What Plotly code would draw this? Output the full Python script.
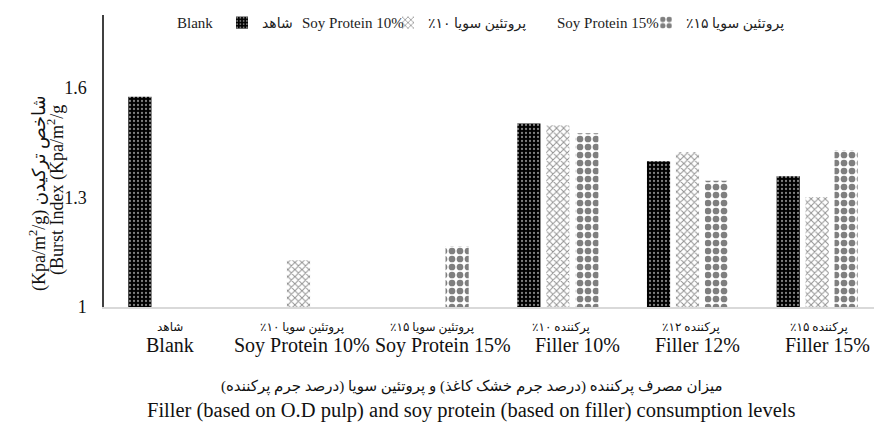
import plotly.graph_objects as go

# ---------------- data ----------------
categories = ["Blank", "Soy Protein 10%", "Soy Protein 15%", "Filler 10%", "Filler 12%", "Filler 15%"]
categories_fa = ["شاهد", "پروتئین سویا ۱۰٪", "پروتئین سویا ۱۵٪", "پرکننده ۱۰٪", "پرکننده ۱۲٪", "پرکننده ۱۵٪"]
series_en = ["Blank", "Soy Protein 10%", "Soy Protein 15%"]
series_fa = ["شاهد", "پروتئین سویا ۱۰٪", "پروتئین سویا ۱۵٪"]
blank_vals = [1.576, None, None, 1.503, 1.399, 1.358]
soy10_vals = [None, 1.128, None, 1.498, 1.424, 1.301]
soy15_vals = [None, None, 1.167, 1.476, 1.346, 1.430]
y_tickvals = [1, 1.3, 1.6]
y_ticktext = ["1", "1.3", "1.6"]

RLM = "\u200f"
FONT = "Liberation Serif, Times New Roman, DejaVu Sans, serif"

patterns = [
    dict(shape=".", fgcolor="white", bgcolor="black", size=4, solidity=0.25),
    dict(shape="x", fgcolor="#222222", bgcolor="white", size=5, solidity=0.35),
    dict(shape=".", fgcolor="black", bgcolor="white", size=8, solidity=0.55),
]
legend_ids = ["legend", "legend2", "legend3"]
legend_x_px = [222, 388, 646]

fig = go.Figure()
for vals, name, pat, lg in zip([blank_vals, soy10_vals, soy15_vals], series_fa, patterns, legend_ids):
    fig.add_trace(go.Bar(
        x=categories, y=vals, name=RLM + name + RLM, legend=lg, showlegend=True,
        marker=dict(color=pat["bgcolor"], pattern=pat, line=dict(width=0)),
    ))

# the page body has an 8px margin: work in page pixels, convert to figure
OFF = 8
W, H = 882 - OFF, 430 - OFF
ml, mr, mt, mb = 104 - OFF, 0, 15 - OFF, 430 - 307
pw, ph = W - ml - mr, H - mt - mb

def px_x(x):
    return (x - OFF - ml) / pw

def px_y(y):
    return (H - mb - (y - OFF)) / ph

legend_common = dict(orientation="h", yanchor="middle", xanchor="left", visible=True,
                     bgcolor="rgba(0,0,0,0)", font=dict(family=FONT, size=14, color="#222"),
                     itemclick=False, itemdoubleclick=False)
layout_legends = {}
for lg, xp in zip(legend_ids, legend_x_px):
    layout_legends[lg] = dict(legend_common, x=px_x(xp), y=px_y(23))

fig.update_layout(
    width=W, height=H, showlegend=True,
    margin=dict(l=ml, r=mr, t=mt, b=mb, pad=0, autoexpand=False),
    paper_bgcolor="white", plot_bgcolor="white",
    barmode="group", bargap=0.33, bargroupgap=0.2,
    font=dict(family=FONT, color="#111"),
    **layout_legends,
)

fig.update_xaxes(
    type="category", range=[-0.5, 5.5], automargin=False,
    showline=True, linecolor="#d9d9d9", linewidth=1.5,
    showgrid=False, ticks="", showticklabels=False,
)
fig.update_yaxes(
    range=[1, 1.8], tickvals=y_tickvals, ticktext=y_ticktext, automargin=False,
    showline=True, linecolor="#404040", linewidth=1.5,
    showgrid=False, zeroline=False, ticks="",
    tickfont=dict(family=FONT, size=18, color="#111"),
    ticklabelstandoff=12,
)

# two-line category labels (Persian above English)
fa_shift = [1, 3, 4, 3, 3, 2]
en_shift = [1, 3, 15, 20, 10, 10]
for cat, fa, fs, es in zip(categories, categories_fa, fa_shift, en_shift):
    fig.add_annotation(x=cat, y=px_y(327), xref="x", yref="paper", text=RLM + fa + RLM,
                       showarrow=False, font=dict(family=FONT, size=12, color="#111"),
                       xanchor="center", yanchor="middle", xshift=fs)
    fig.add_annotation(x=cat, y=px_y(345), xref="x", yref="paper", text=cat,
                       showarrow=False, font=dict(family=FONT, size=20, color="#111"),
                       xanchor="center", yanchor="middle", xshift=es)

# English legend texts
legend_en_right_px = [215, 406, 661]
for txt, xr in zip(series_en, legend_en_right_px):
    fig.add_annotation(x=px_x(xr), y=px_y(23), xref="paper", yref="paper", text=txt,
                       showarrow=False, font=dict(family=FONT, size=15, color="#222"),
                       xanchor="right", yanchor="middle")

# Y axis title (two lines)
fig.add_annotation(x=px_x(38), y=px_y(193), xref="paper", yref="paper",
                   text="(Kpa/m<sup>2</sup>/g) شاخص ترکیدن", textangle=-90, showarrow=False,
                   font=dict(family=FONT, size=18, color="#111"), xanchor="center", yanchor="middle")
fig.add_annotation(x=px_x(56), y=px_y(190), xref="paper", yref="paper",
                   text="(Burst Index (Kpa/m<sup>2</sup>/g", textangle=-90, showarrow=False,
                   font=dict(family=FONT, size=18, color="#111"), xanchor="center", yanchor="middle")

# X axis title (two lines)
fig.add_annotation(x=px_x(472), y=px_y(387), xref="paper", yref="paper",
                   text=RLM + "میزان مصرف پرکننده (درصد جرم خشک کاغذ) و پروتئین سویا (درصد جرم پرکننده)" + RLM,
                   showarrow=False, font=dict(family=FONT, size=15, color="#111"),
                   xanchor="center", yanchor="middle")
fig.add_annotation(x=px_x(471), y=px_y(410), xref="paper", yref="paper",
                   text="Filler (based on O.D pulp) and soy protein (based on filler) consumption levels",
                   showarrow=False, font=dict(family=FONT, size=20.5, color="#111"),
                   xanchor="center", yanchor="middle")

fig.write_html("out.html")
